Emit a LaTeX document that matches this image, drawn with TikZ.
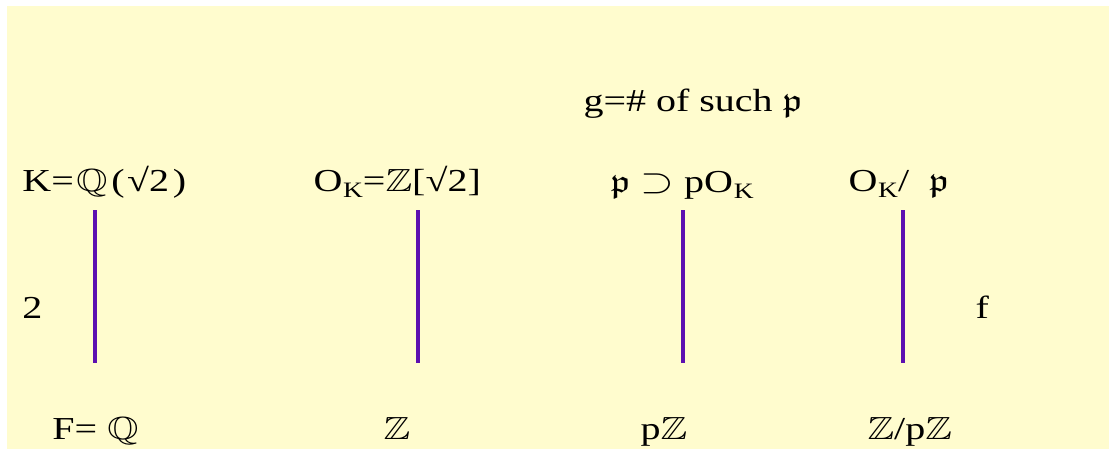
\documentclass[tikz,border=0pt]{standalone}
\usepackage{amsmath}
\usepackage{amssymb}
\usepackage{fontspec}
\setmainfont{Liberation Serif}
\usetikzlibrary{positioning}

\definecolor{paleyellow}{RGB}{255,252,206}
\definecolor{towerline}{RGB}{92,16,176}
\newcommand{\OK}{O\kern0.3pt\lower3pt\hbox{\fontsize{11}{11}\selectfont K}}

\begin{document}
\begin{tikzpicture}[x=0.5pt,y=-0.5pt,
    every node/.style={inner sep=0pt,anchor=base west,xscale=1.25,
        font=\fontsize{16}{18}\selectfont},
    tower/.style={draw=towerline,line width=2.4pt}]
            \fill[white] (0,0) rectangle (1109,457);
            \fill[paleyellow] (7,6) rectangle (1109,449);

            \foreach \i/\x in {1/95,2/418,3/683,4/903}{
                \coordinate (t\i) at (\x,210);
                \coordinate (b\i) at (\x,363);
                \draw[tower] (t\i)--(b\i);
            }

            \node (g) at (583,111) {g=\# of such $\mathfrak{p}$};

            \node (K) at (22,191) {K=\kern1pt$\mathbb{Q}$\kern1.5pt(\kern1pt√2\kern1.5pt)};
            \node (OK) at (313,191) {\OK=$\mathbb{Z}$[√2]};
            \node (P) at (610,192) {$\mathfrak{p}$ $\supset$ p\OK};
            \node (res) at (848,191) {\OK/\ \ $\mathfrak{p}$};

            \node (deg) at (22,318) {2};
            \node (f) at (975,318) {f};

            \node (F) at (52,439) {F= $\mathbb{Q}$};
            \node (Z) at (383,439) {$\mathbb{Z}$};
            \node (pZ) at (640,439) {p$\mathbb{Z}$};
            \node (ZpZ) at (867,439) {$\mathbb{Z}$/p$\mathbb{Z}$};
        \end{tikzpicture}
\end{document}
